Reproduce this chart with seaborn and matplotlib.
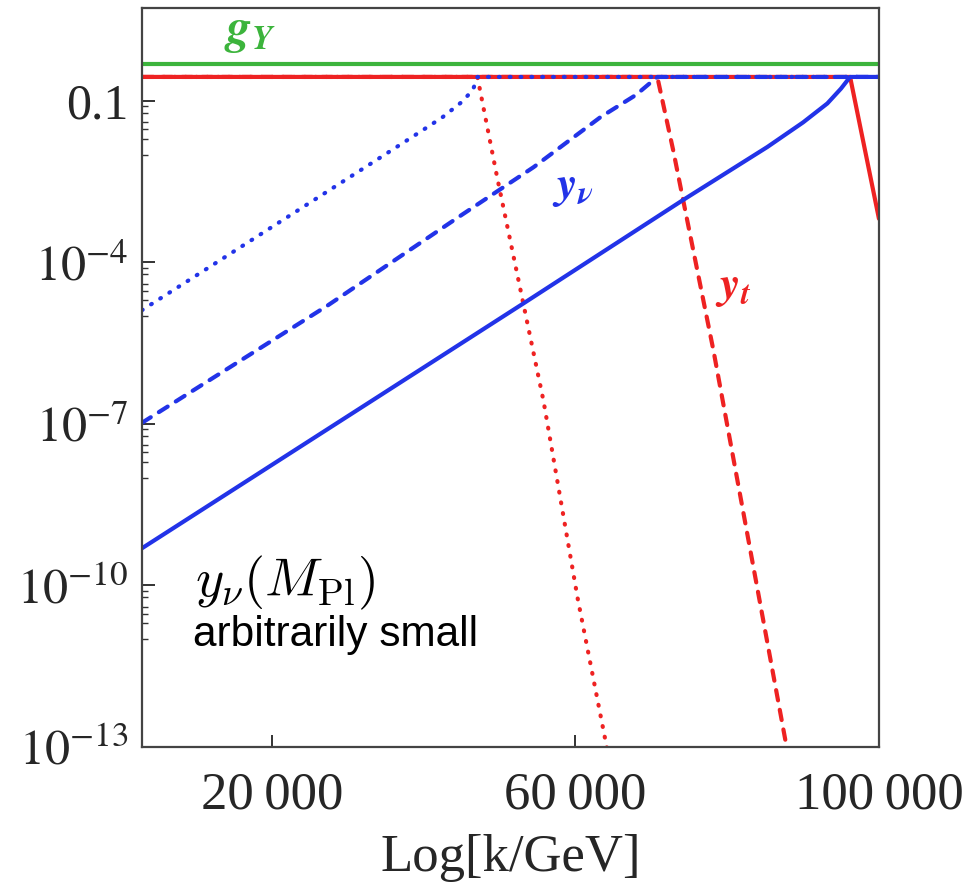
import matplotlib
matplotlib.use("Agg")
import matplotlib.pyplot as plt
import numpy as np
import pandas as pd
import seaborn as sns

# values: x = Log[k/GeV], y = coupling
k_green = [2900, 100000]
y_green = [0.49, 0.49]

k_blue_solid = [2900, 34300, 53200, 74200, 85300, 90000, 93200, 95000, 96200, 100000]
y_blue_solid = [4.9e-10, 3.4e-7, 1.75e-5, 1.45e-3, 1.4e-2, 4.0e-2, 9.0e-2, 0.17, 0.28, 0.28]

k_blue_dash = [2900, 27400, 45000, 54500, 63300, 68000, 70800, 100000]
y_blue_dash = [1.05e-7, 1.6e-5, 7.6e-4, 5.9e-3, 5.0e-2, 0.13, 0.28, 0.28]

k_blue_dot = [2900, 11600, 28200, 34300, 39600, 42500, 45000, 46500, 47100, 100000]
y_blue_dot = [1.3e-5, 7.9e-5, 2.5e-3, 8.9e-3, 2.7e-2, 5.0e-2, 0.095, 0.16, 0.28, 0.28]

k_red_solid = [2900, 96200, 100000]
y_red_solid = [0.28, 0.28, 6.5e-4]

k_red_dash = [2900, 70800, 72900, 74200, 78200, 87900, 88600]
y_red_dash = [0.28, 0.28, 1.2e-2, 1.45e-3, 2.3e-6, 8.9e-14, 2.8e-14]

k_red_dot = [2900, 47100, 49700, 55800, 60300, 64200, 64900]
y_red_dot = [0.28, 0.28, 3.8e-3, 2.7e-7, 5.8e-11, 8.9e-14, 2.8e-14]

y_ticks = [1e-1, 1e-4, 1e-7, 1e-10, 1e-13]
y_ticklabels = ['0.1', r'$10^{-4}$', r'$10^{-7}$', r'$10^{-10}$', r'$10^{-13}$']
x_ticks = [20000, 60000, 100000]
x_ticklabels = ['20\u2009000', '60\u2009000', '100\u2009000']

sns.set_theme(style='white')
plt.rcParams['font.family'] = ['Liberation Serif', 'DejaVu Serif']
plt.rcParams['mathtext.fontset'] = 'stix'

red = '#ee2222'
blue = '#2233e8'
green = '#3cb43c'
lw = 3.0
dot = (0, (0.2, 2.4))
dash = (0, (2.5, 2.3))

fig = plt.figure(figsize=(9.79, 8.86), dpi=100)
ax = fig.add_axes([0.145, 0.157, 0.7528, 0.834])
ax.set_yscale('log')

sns.lineplot(x=k_green, y=y_green, ax=ax, color=green, lw=lw, sort=False, estimator=None)
for k, y, ls in [(k_red_solid, y_red_solid, '-'),
                 (k_red_dash, y_red_dash, dash),
                 (k_red_dot, y_red_dot, dot)]:
    sns.lineplot(x=k, y=y, ax=ax, color=red, lw=lw, linestyle=ls,
                 sort=False, estimator=None, dash_capstyle='round')
for k, y, ls in [(k_blue_solid, y_blue_solid, '-'),
                 (k_blue_dash, y_blue_dash, dash),
                 (k_blue_dot, y_blue_dot, dot)]:
    sns.lineplot(x=k, y=y, ax=ax, color=blue, lw=lw, linestyle=ls,
                 sort=False, estimator=None, dash_capstyle='round')

ax.set_xlim(2900, 100000)
ax.set_ylim(1e-13, 5.35)

ax.set_xticks(x_ticks)
ax.set_xticklabels(x_ticklabels, fontsize=38)
ax.set_yticks(y_ticks)
ax.set_yticklabels(y_ticklabels, fontsize=36)
minor = [10.0 ** e * m for e in [-1, -4, -7, -10, -13] for m in [0.8, 0.6, 0.4, 0.3, 0.2, 0.1]]
ax.set_yticks([v for v in minor if v > 1e-13], minor=True)
ax.set_yticklabels([], minor=True)
ax.xaxis.set_minor_locator(matplotlib.ticker.NullLocator())
ax.tick_params(axis='both', which='major', direction='in', length=9, width=1.4,
               color='#333333', bottom=True, left=True, top=False, right=False)
ax.tick_params(axis='x', which='major', pad=18)
ax.tick_params(axis='y', which='major', pad=10)
ax.tick_params(axis='y', which='minor', direction='in', length=4, width=1.0,
               color='#333333', left=True, right=False)
ax.set_xlabel('Log[k/GeV]', fontsize=38, labelpad=10)
ax.set_ylabel('')
for s in ax.spines.values():
    s.set_color('#444444')
    s.set_linewidth(1.6)

ax.text(0.1465, 0.966, r'$\mathbfit{g}_{\mathbfit{Y}}$', transform=ax.transAxes,
        color=green, fontsize=35, ha='center', va='center')
ax.text(0.585, 0.757, r'$\mathbfit{y}_{\mathbfit{\nu}}$', transform=ax.transAxes,
        color=blue, fontsize=33, ha='center', va='center')
ax.text(0.802, 0.622, r'$\mathbfit{y}_{\mathbfit{t}}$', transform=ax.transAxes,
        color=red, fontsize=33, ha='center', va='center')
ax.text(0.072, 0.222, r'$y_\nu(M_{\rm Pl})$', transform=ax.transAxes,
        math_fontfamily='cm', fontsize=39, ha='left', va='center', color='black')
ax.text(0.069, 0.151, 'arbitrarily small', transform=ax.transAxes,
        family=['Liberation Sans', 'DejaVu Sans'], fontsize=30.5, ha='left', va='center',
        color='black')

fig.savefig('out.png', dpi=100)
